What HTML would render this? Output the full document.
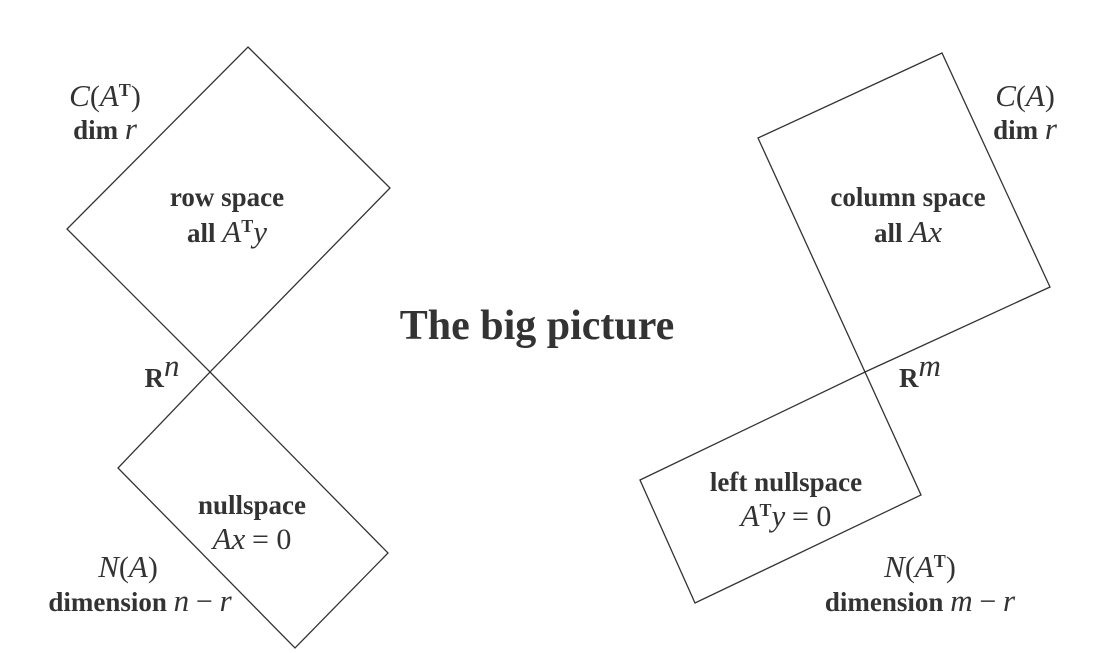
<!DOCTYPE html>
<html><head><meta charset="utf-8"><style>
html,body{margin:0;padding:0;background:#fff;}
svg{display:block;}
text{font-family:"Liberation Serif",serif;fill:#333;font-weight:bold;}
.it{font-style:italic;font-weight:normal;font-size:31px;}
.n{font-weight:normal;font-size:30px;}
</style></head><body>
<svg width="1103" height="653" viewBox="0 0 1103 653">
<g fill="none" stroke="#333" stroke-width="1.3">
<polygon points="248,47 390,188 210,372 67,229"/>
<polygon points="210,372 388,553 295,648 118,468"/>
<polygon points="758,138 942,53 1050,287 865,372"/>
<polygon points="640,480 865,372 921,495 695,603"/>
</g>
<text x="537" y="339" font-size="42" text-anchor="middle" fill="#444">The big picture</text>
<g font-size="27" text-anchor="middle">
<text x="105" y="106"><tspan class="it">C</tspan><tspan class="n">(</tspan><tspan class="it">A</tspan><tspan font-size="18" dy="-10">T</tspan><tspan class="n" dy="10">)</tspan></text>
<text x="105" y="139">dim <tspan class="it">r</tspan></text>
<text x="227" y="206">row space</text>
<text x="227" y="242">all <tspan class="it">A</tspan><tspan font-size="18" dy="-10">T</tspan><tspan class="it" dy="10">y</tspan></text>
<text x="162" y="387">R<tspan class="it" font-size="24" dy="-11">n</tspan></text>
</g>
<g font-size="27" text-anchor="middle">
<text x="252" y="514">nullspace</text>
<text x="252" y="549"><tspan class="it">Ax</tspan> <tspan class="n">= 0</tspan></text>
<text x="128" y="577"><tspan class="it">N</tspan><tspan class="n">(</tspan><tspan class="it">A</tspan><tspan class="n">)</tspan></text>
<text x="140" y="611">dimension <tspan class="it">n</tspan> <tspan class="n">−</tspan> <tspan class="it">r</tspan></text>
</g>
<g font-size="27" text-anchor="middle">
<text x="1025" y="106"><tspan class="it">C</tspan><tspan class="n">(</tspan><tspan class="it">A</tspan><tspan class="n">)</tspan></text>
<text x="1025" y="139">dim <tspan class="it">r</tspan></text>
<text x="908" y="206">column space</text>
<text x="908" y="242">all <tspan class="it">Ax</tspan></text>
<text x="920" y="387">R<tspan class="it" font-size="24" dy="-11">m</tspan></text>
</g>
<g font-size="27" text-anchor="middle">
<text x="786" y="491">left nullspace</text>
<text x="786" y="526"><tspan class="it">A</tspan><tspan font-size="18" dy="-10">T</tspan><tspan class="it" dy="10">y</tspan> <tspan class="n">= 0</tspan></text>
<text x="920" y="577"><tspan class="it">N</tspan><tspan class="n">(</tspan><tspan class="it">A</tspan><tspan font-size="18" dy="-10">T</tspan><tspan class="n" dy="10">)</tspan></text>
<text x="920" y="611">dimension <tspan class="it">m</tspan> <tspan class="n">−</tspan> <tspan class="it">r</tspan></text>
</g>
</svg>
</body></html>
